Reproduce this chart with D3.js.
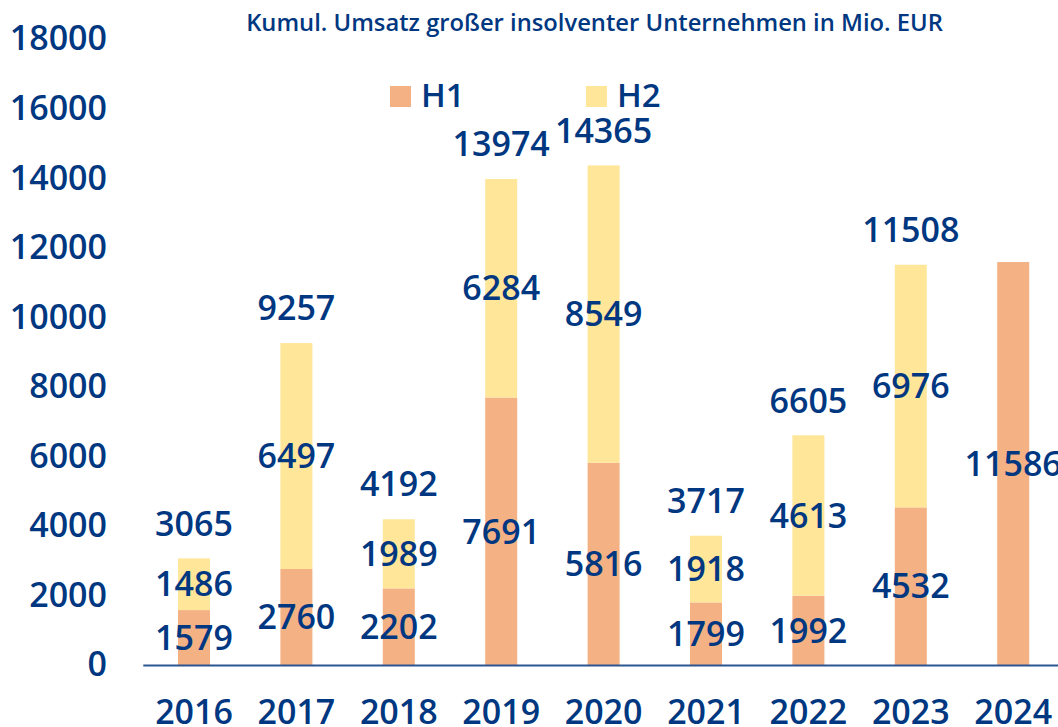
<!DOCTYPE html>
<html>
<head>
<meta charset="utf-8">
<script src="https://cdn.jsdelivr.net/npm/d3@7"></script>
<style>
  body { margin: 0; background: #fff; }
  svg { display: block; font-family: "Open Sans", sans-serif; }
</style>
</head>
<body>
<svg id="chart" width="1058" height="727"></svg>
<script>
// data
const years = ['2016', '2017', '2018', '2019', '2020', '2021', '2022', '2023', '2024'];
const h1 = [1579, 2760, 2202, 7691, 5816, 1799, 1992, 4532, 11586];
const h2 = [1486, 6497, 1989, 6284, 8549, 1918, 4613, 6976, 0];
const totals = [3065, 9257, 4192, 13974, 14365, 3717, 6605, 11508, null];
const yTicks = [0, 2000, 4000, 6000, 8000, 10000, 12000, 14000, 16000, 18000];

const blue = '#003781';
const colH1 = '#f4b183';
const colH2 = '#ffe699';

const svg = d3.select('#chart');
const baseY = 665;

const x = d3.scaleBand()
  .domain(years)
  .range([142.8, 142.8 + 9 * 102.4])
  .paddingInner(0.6875)
  .paddingOuter(0.34375);

const y = d3.scaleLinear()
  .domain([0, 18000])
  .range([baseY, 39]);

// stacked rows
const rows = years.map((yr, i) => ({ year: yr, H1: h1[i], H2: h2[i], total: totals[i] }));
const stack = d3.stack().keys(['H1', 'H2'])(rows);
const colors = { H1: colH1, H2: colH2 };

// title, sized to span ~246..943 like the original
const title = svg.append('text')
  .attr('x', 594.5)
  .attr('y', 31)
  .attr('text-anchor', 'middle')
  .attr('fill', blue)
  .style('font-size', '22px')
  .style('font-weight', 600)
  .text('Kumul. Umsatz großer insolventer Unternehmen in Mio. EUR');
const tw = title.node().getComputedTextLength();
title.style('font-size', (22 * 697 / tw).toFixed(2) + 'px');

// y axis (labels only)
const yAxis = svg.append('g')
  .attr('transform', 'translate(107,0)')
  .call(d3.axisLeft(y).tickValues(yTicks).tickSize(0).tickPadding(0).tickFormat(d3.format('d')));
yAxis.select('.domain').remove();
yAxis.selectAll('text')
  .attr('fill', blue)
  .style('font-size', '34px')
  .style('font-weight', 600)
  .style('font-family', '"Open Sans", sans-serif');

// bars
svg.append('g').selectAll('g')
  .data(stack)
  .join('g')
  .attr('fill', d => colors[d.key])
  .selectAll('rect')
  .data(d => d)
  .join('rect')
  .attr('x', d => x(d.data.year))
  .attr('width', x.bandwidth())
  .attr('y', d => y(d[1]))
  .attr('height', d => y(d[0]) - y(d[1]));

// x axis
const xAxis = svg.append('g')
  .attr('transform', `translate(0,${baseY})`)
  .call(d3.axisBottom(x).tickSize(0));
xAxis.select('.domain')
  .attr('stroke', '#2d5592')
  .attr('stroke-width', 2);
xAxis.selectAll('text')
  .attr('y', 59)
  .attr('dy', 0)
  .attr('fill', blue)
  .style('font-size', '34px')
  .style('font-weight', 600)
  .style('font-family', '"Open Sans", sans-serif');

// segment labels
const labels = svg.append('g')
  .attr('fill', blue)
  .attr('text-anchor', 'middle')
  .style('font-size', '34px')
  .style('font-weight', 600);

stack.forEach(layer => {
  labels.selectAll(null)
    .data(layer.filter(d => d[1] - d[0] > 0))
    .join('text')
    .attr('x', d => x(d.data.year) + x.bandwidth() / 2)
    .attr('y', d => (y(d[0]) + y(d[1])) / 2)
    .attr('dy', '0.36em')
    .text(d => d.data[layer.key]);
});

// totals above bars
labels.selectAll(null)
  .data(rows.filter(d => d.total !== null))
  .join('text')
  .attr('x', d => x(d.year) + x.bandwidth() / 2)
  .attr('y', d => y(d.H1 + d.H2) - 35)
  .attr('dy', '0.36em')
  .text(d => d.total);

// legend
const legend = svg.append('g');
[['H1', colH1, 390], ['H2', colH2, 586]].forEach(([name, col, lx]) => {
  legend.append('rect')
    .attr('x', lx)
    .attr('y', 86)
    .attr('width', 21)
    .attr('height', 21)
    .attr('fill', col);
  legend.append('text')
    .attr('x', lx + 31)
    .attr('y', 107)
    .attr('fill', blue)
    .style('font-size', '33px')
    .style('font-weight', 600)
    .text(name);
});
</script>
</body>
</html>
